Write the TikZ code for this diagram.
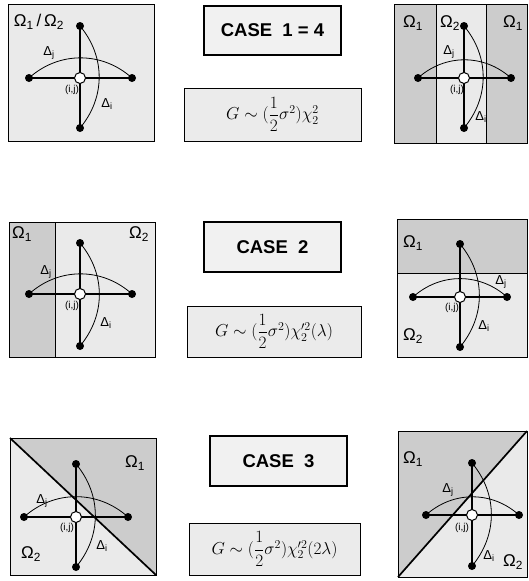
\documentclass[tikz,border=0pt]{standalone}
\usepackage{amsmath}
\usepackage{fontspec}
\setmainfont{Liberation Sans}
\usetikzlibrary{calc}
\pgfdeclarelayer{bg}
\pgfdeclarelayer{mid}
\pgfsetlayers{bg,mid,main}
\definecolor{lightreg}{HTML}{EAEAEA}
\definecolor{darkreg}{HTML}{CCCCCC}
\definecolor{casefill}{HTML}{F1F1F1}
\definecolor{formfill}{HTML}{EBEBEB}
\tikzset{
  dot/.style={circle,fill=black,inner sep=0pt,minimum size=8pt},
  ctr/.style={circle,draw=black,fill=white,line width=1pt,inner sep=0pt,minimum size=11pt},
  arcline/.style={line width=0.8pt},
  crossline/.style={line width=1.7pt},
  frame/.style={draw=black,line width=1pt},
  casebox/.style={draw=black,line width=2pt,fill=casefill,inner sep=0pt,font=\fontsize{18.5}{20}\selectfont\bfseries},
  formbox/.style={draw=black,line width=1pt,fill=formfill,inner sep=0pt,font=\fontsize{17.5}{20}\selectfont},
  omlab/.style={inner sep=0pt,font=\fontsize{17}{18}\selectfont},
  dlab/.style={inner sep=0pt,font=\fontsize{13}{14}\selectfont},
  ijlab/.style={inner sep=0pt,font=\fontsize{10}{11}\selectfont}
}
\newcommand\mysub[1]{\textsubscript{#1}}
% #1 prefix, #2 cx, #3 cy, #4 left x, #5 right x, #6 top y, #7 bottom y
\newcommand\mycross[7]{%
  \node[dot] (#1t) at (#2,#6) {};
  \node[dot] (#1b) at (#2,#7) {};
  \node[dot] (#1l) at (#4,#3) {};
  \node[dot] (#1r) at (#5,#3) {};
  \node[ctr] (#1c) at (#2,#3) {};
  \begin{pgfonlayer}{mid}
    \draw[arcline] (#1l.center) to[bend left=42] (#1r.center);
    \draw[arcline] (#1t.center) to[bend left=40] (#1b.center);
    \draw[crossline] (#1t.center) -- (#1b.center) (#1l.center) -- (#1r.center);
  \end{pgfonlayer}
}
\begin{document}
\begin{tikzpicture}[x=1pt,y=-1pt]
\useasboundingbox (0,0) rectangle (528,581);
% ---------- panel 1 ----------
\begin{pgfonlayer}{bg}
  \fill[lightreg] (8,4) rectangle (154,141);
  \draw[frame] (8,4) rectangle (154,141);
\end{pgfonlayer}
\mycross{a}{80}{78}{29}{132}{26}{128}
\node[omlab] (a-om) at (39,22) {Ω\mysub{1}\,/\,Ω\mysub{2}};
\node[dlab] (a-dj) at (49,53) {Δ\mysub{j}};
\node[dlab] (a-di) at (107,104) {Δ\mysub{i}};
\node[ijlab] (a-ij) at (72,90) {(i,j)};
% ---------- panel 2 ----------
\begin{pgfonlayer}{bg}
  \fill[lightreg] (394,4) rectangle (527,143);
  \fill[darkreg] (394,4) rectangle (436,143);
  \fill[darkreg] (486,4) rectangle (527,143);
  \draw[frame] (436,4) -- (436,143) (486,4) -- (486,143);
  \draw[frame] (394,4) rectangle (527,143);
\end{pgfonlayer}
\mycross{b}{464}{78}{418}{511}{26}{128}
\node[omlab] (b-om1) at (413,23) {Ω\mysub{1}};
\node[omlab] (b-om2) at (450,23) {Ω\mysub{2}};
\node[omlab] (b-om3) at (513,23) {Ω\mysub{1}};
\node[dlab] (b-dj) at (449,52) {Δ\mysub{j}};
\node[dlab] (b-di) at (481,117) {Δ\mysub{i}};
\node[ijlab] (b-ij) at (457,90) {(i,j)};
% ---------- panel 3 ----------
\begin{pgfonlayer}{bg}
  \fill[lightreg] (9,222) rectangle (155,357);
  \fill[darkreg] (9,222) rectangle (55,357);
  \draw[frame] (55,222) -- (55,357);
  \draw[frame] (9,222) rectangle (155,357);
\end{pgfonlayer}
\mycross{c}{80}{294}{29}{132}{243}{346}
\node[omlab] (c-om1) at (22,234) {Ω\mysub{1}};
\node[omlab] (c-om2) at (139,234) {Ω\mysub{2}};
\node[dlab] (c-dj) at (46,272) {Δ\mysub{j}};
\node[dlab] (c-di) at (106,323) {Δ\mysub{i}};
\node[ijlab] (c-ij) at (72,306) {(i,j)};
% ---------- panel 4 ----------
\begin{pgfonlayer}{bg}
  \fill[lightreg] (397,219) rectangle (527,357);
  \fill[darkreg] (397,219) rectangle (527,273);
  \draw[frame] (397,273) -- (527,273);
  \draw[frame] (397,219) rectangle (527,357);
\end{pgfonlayer}
\mycross{d}{460}{297}{413}{507}{244}{347}
\node[omlab] (d-om1) at (413,243) {Ω\mysub{1}};
\node[omlab] (d-om2) at (413,336) {Ω\mysub{2}};
\node[dlab] (d-dj) at (501,282) {Δ\mysub{j}};
\node[dlab] (d-di) at (484,326) {Δ\mysub{i}};
\node[ijlab] (d-ij) at (452,308) {(i,j)};
% ---------- panel 5 ----------
\begin{pgfonlayer}{bg}
  \fill[lightreg] (10,438) rectangle (156,575);
  \fill[darkreg] (10,438) -- (156,438) -- (156,575) -- cycle;
  \draw[line width=1.7pt] (10,438) -- (156,575);
  \draw[frame] (10,438) rectangle (156,575);
\end{pgfonlayer}
\mycross{e}{76}{517}{24}{128}{464}{567}
\node[omlab] (e-om1) at (135,463) {Ω\mysub{1}};
\node[omlab] (e-om2) at (31,554) {Ω\mysub{2}};
\node[dlab] (e-dj) at (42,501) {Δ\mysub{j}};
\node[dlab] (e-di) at (102,546) {Δ\mysub{i}};
\node[ijlab] (e-ij) at (67,528) {(i,j)};
% ---------- panel 6 ----------
\begin{pgfonlayer}{bg}
  \fill[lightreg] (398,431) rectangle (527,577);
  \fill[darkreg] (398,431) -- (527,431) -- (398,577) -- cycle;
  \draw[line width=1.7pt] (398,577) -- (527,431);
  \draw[frame] (398,431) rectangle (527,577);
\end{pgfonlayer}
\mycross{f}{472}{515}{426}{519}{463}{566}
\node[omlab] (f-om1) at (413,459) {Ω\mysub{1}};
\node[omlab] (f-om2) at (513,562) {Ω\mysub{2}};
\node[dlab] (f-dj) at (448,490) {Δ\mysub{j}};
\node[dlab] (f-di) at (489,556) {Δ\mysub{i}};
\node[ijlab] (f-ij) at (462,528) {(i,j)};
% ---------- centre boxes ----------
\node[casebox,minimum width=137pt,minimum height=49pt] (case1) at (272.5,30.5) {CASE\ \ 1 = 4};
\node[formbox,minimum width=177pt,minimum height=53pt] (form1) at (272.5,114.5) {$G\sim(\dfrac{1}{2}\sigma^2)\chi^2_2$};
\node[casebox,minimum width=137pt,minimum height=50pt] (case2) at (272.5,247) {CASE\ \ 2};
\node[formbox,minimum width=174pt,minimum height=51pt] (form2) at (274,331.5) {$G\sim(\dfrac{1}{2}\sigma^2)\chi'^2_2(\lambda)$};
\node[casebox,minimum width=137pt,minimum height=50pt] (case3) at (278.5,461) {CASE\ \ 3};
\node[formbox,minimum width=171pt,minimum height=52pt] (form3) at (274.5,549) {$G\sim(\dfrac{1}{2}\sigma^2)\chi'^2_2(2\lambda)$};
\end{tikzpicture}
\end{document}
